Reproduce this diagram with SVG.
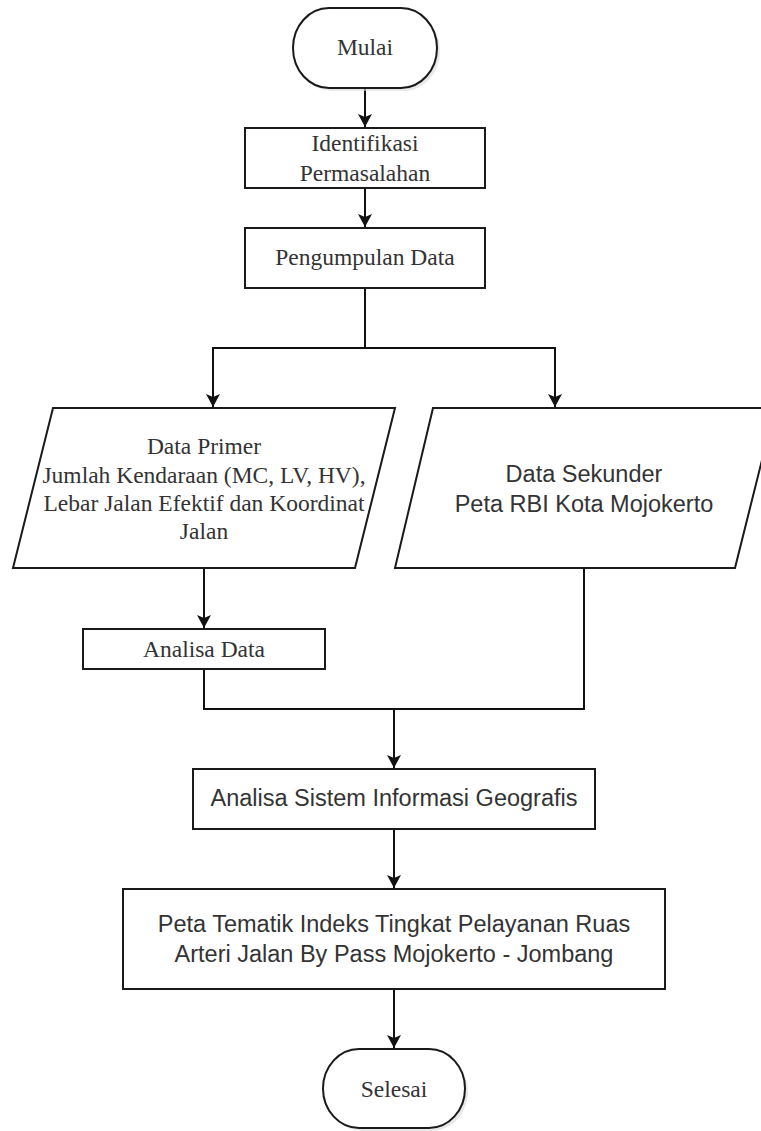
<svg xmlns="http://www.w3.org/2000/svg" width="761" height="1131" viewBox="0 0 761 1131">
<style>
.shape{fill:#fff;stroke:#1a1a1a;stroke-width:2}
.shadow{fill:#d9d9d9;stroke:none}
.serif{font-family:"Liberation Serif","Times New Roman",serif;font-size:23.5px;fill:#333;text-anchor:middle}
.sans{font-family:"Liberation Sans",Arial,sans-serif;font-size:23.5px;fill:#333;text-anchor:middle}
.conn{fill:none;stroke:#111;stroke-width:2;marker-end:url(#arrow)}
.plain{fill:none;stroke:#111;stroke-width:2}
</style>
<defs>
<marker id="arrow" markerUnits="userSpaceOnUse" markerWidth="16" markerHeight="16" viewBox="0 0 16 16" refX="14" refY="8" orient="auto">
<path d="M1,1 L14,8 L1,15 L4,8 Z" fill="#111"/>
</marker>
</defs>
<rect width="761" height="1131" fill="#fff"/>
<g id="connectors">
<path class="conn" d="M365,88 V127"/>
<path class="conn" d="M365,188 V227"/>
<path class="plain" d="M365,288 V348"/>
<path class="conn" d="M365,348 H213 V407"/>
<path class="conn" d="M365,348 H555 V407"/>
<path class="conn" d="M204,568 V628"/>
<path class="plain" d="M204,669 V709 H584 V568"/>
<path class="conn" d="M394,709 V768"/>
<path class="conn" d="M394,829 V888"/>
<path class="conn" d="M394,989 V1048"/>
</g>
<g id="mulai">
<rect class="shadow" x="296" y="11" width="144" height="80" rx="36" ry="40" opacity="0.6"/>
<rect class="shape" x="293" y="8" width="144" height="80" rx="36" ry="40"/>
<text class="serif" x="365" y="55">Mulai</text>
</g>
<g id="identifikasi">
<rect class="shape" x="245" y="128" width="240" height="60"/>
<text class="serif" x="365" y="151">Identifikasi</text>
<text class="serif" x="365" y="181">Permasalahan</text>
</g>
<g id="pengumpulan">
<rect class="shape" x="245" y="228" width="240" height="60"/>
<text class="serif" x="365" y="265">Pengumpulan Data</text>
</g>
<g id="data-primer">
<polygon class="shape" points="53,408 395,408 355,568 13,568"/>
<text class="serif" x="204" y="454">Data Primer</text>
<text class="serif" x="204" y="483">Jumlah Kendaraan (MC, LV, HV),</text>
<text class="serif" x="204" y="511">Lebar Jalan Efektif dan Koordinat</text>
<text class="serif" x="204" y="539">Jalan</text>
</g>
<g id="data-sekunder">
<polygon class="shape" points="433,408 775,408 735,568 395,568"/>
<text class="sans" x="584" y="482">Data Sekunder</text>
<text class="sans" x="584" y="512">Peta RBI Kota Mojokerto</text>
</g>
<g id="analisa-data">
<rect class="shape" x="83" y="629" width="242" height="40"/>
<text class="serif" x="204" y="657">Analisa Data</text>
</g>
<g id="analisa-sig">
<rect class="shape" x="193" y="769" width="402" height="60"/>
<text class="sans" x="394" y="806">Analisa Sistem Informasi Geografis</text>
</g>
<g id="peta-tematik">
<rect class="shape" x="123" y="889" width="542" height="100"/>
<text class="sans" x="394" y="932">Peta Tematik Indeks Tingkat Pelayanan Ruas</text>
<text class="sans" x="394" y="962">Arteri Jalan By Pass Mojokerto - Jombang</text>
</g>
<g id="selesai">
<rect class="shadow" x="326" y="1052" width="142" height="79" rx="36" ry="39.5" opacity="0.6"/>
<rect class="shape" x="323" y="1049" width="142" height="79" rx="36" ry="39.5"/>
<text class="serif" x="394" y="1097">Selesai</text>
</g>
</svg>
